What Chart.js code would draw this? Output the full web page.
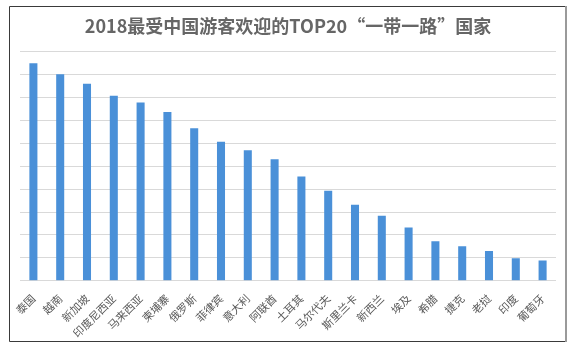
<!DOCTYPE html>
<html>
<head>
<meta charset="utf-8">
<script src="https://cdn.jsdelivr.net/npm/chart.js@4"></script>
<style>
    html, body { margin: 0; padding: 0; background: #fff; }
    canvas { display: block; }
</style>
</head>
<body>
<canvas id="chartTop20" width="575" height="348"></canvas>
<script>
// Страны и их значения (без подписей по оси Y)
const countries = ['泰国', '越南', '新加坡', '印度尼西亚', '马来西亚', '柬埔寨', '俄罗斯', '菲律宾', '意大利', '阿联酋',
    '土耳其', '马尔代夫', '斯里兰卡', '新西兰', '埃及', '希腊', '捷克', '老挝', '印度', '葡萄牙'];
const popularity = [9.49, 9.01, 8.6, 8.07, 7.78, 7.36, 6.65, 6.07, 5.69, 5.3,
    4.55, 3.93, 3.32, 2.84, 2.32, 1.73, 1.51, 1.3, 0.98, 0.88];
const gridMax = 10;

// Рамка вокруг всей диаграммы
const framePlugin = {
    id: 'frame',
    afterDraw(chart) {
        const ctx = chart.ctx;
        ctx.save();
        ctx.strokeStyle = '#3a3a3a';
        ctx.lineWidth = 1;
        ctx.beginPath();
        ctx.moveTo(566.5, 6.5);
        ctx.lineTo(9.5, 6.5);
        ctx.lineTo(9.5, 341.5);
        ctx.lineTo(566.5, 341.5);
        ctx.stroke();
        ctx.strokeStyle = '#9a9a9a';
        ctx.lineWidth = 2;
        ctx.beginPath();
        ctx.moveTo(566, 6);
        ctx.lineTo(566, 342);
        ctx.stroke();
        ctx.restore();
    }
};

var ctxTop20 = document.getElementById('chartTop20').getContext('2d');
var chartTop20 = new Chart(ctxTop20, {
    type: 'bar',
    data: {
        labels: countries,
        datasets: [{
            data: popularity,
            backgroundColor: '#4a90d8',
            barPercentage: 0.3,
            categoryPercentage: 1
        }]
    },
    options: {
        responsive: false,
        animation: false,
        layout: {
            padding: { left: 20, right: 19, top: 0, bottom: 5 }
        },
        plugins: {
            legend: { display: false },
            tooltip: { enabled: false },
            title: {
                display: true,
                text: '2018最受中国游客欢迎的TOP20“一带一路”国家',
                color: '#666666',
                font: { family: '"Noto Sans CJK SC", "Noto Sans", sans-serif', size: 18, weight: 'bold' },
                padding: { top: 15, bottom: 15 }
            }
        },
        scales: {
            x: {
                grid: { display: false },
                border: { display: false },
                ticks: {
                    color: '#595959',
                    font: { family: '"Noto Sans CJK SC", sans-serif', size: 11 },
                    minRotation: 45,
                    maxRotation: 45,
                    autoSkip: false,
                    padding: 3
                }
            },
            y: {
                min: 0,
                max: gridMax,
                grid: { color: '#d9d9d9', drawTicks: false },
                border: { display: false },
                ticks: { display: false, stepSize: 1 }
            }
        }
    },
    plugins: [framePlugin]
});
</script>
</body>
</html>
